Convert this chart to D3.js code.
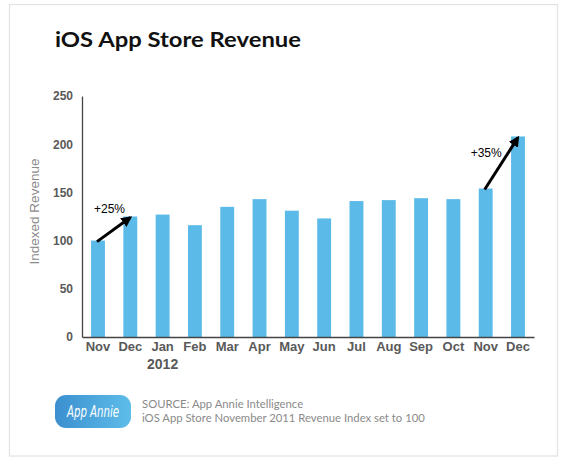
<!DOCTYPE html>
<head>
  <meta charset="utf-8">
  <style>
    body { margin: 0; background: #fff; overflow: hidden; }
    svg { display: block; }
    .axis text { font-family: 'Liberation Sans', Arial, sans-serif; font-weight: bold; fill: #595959; }
  </style>
</head>
<body>
  <script src="https://cdn.jsdelivr.net/npm/d3@7"></script>
  <script>
    // chart values
    const months = ['Nov', 'Dec', 'Jan', 'Feb', 'Mar', 'Apr', 'May', 'Jun', 'Jul', 'Aug', 'Sep', 'Oct', 'Nov2', 'Dec2'];
    const monthLabels = ['Nov', 'Dec', 'Jan', 'Feb', 'Mar', 'Apr', 'May', 'Jun', 'Jul', 'Aug', 'Sep', 'Oct', 'Nov', 'Dec'];
    const revenue = [100, 125, 127, 116, 135, 143, 131, 123, 141, 142, 144, 143, 154, 208];
    const yTicks = [0, 50, 100, 150, 200, 250];
    // growth callouts: from bar index to bar index
    const callouts = [
      {from: 0, to: 1, label: '+25%'},
      {from: 12, to: 13, label: '+35%'}
    ];
    // where each callout label sits, relative to the start of its arrow
    const calloutLabelShift = [[-4, -28], [-15, -32]];

    const width = 563;
    const height = 465;
    const margin = {top: 96, right: 29, bottom: 128, left: 82};

    let svg = d3.select("body").append("svg")
      .attr("width", width)
      .attr("height", height);

    // frame
    svg.append("rect")
      .attr("x", 9.5).attr("y", 4.5)
      .attr("width", 548).attr("height", 451.5)
      .attr("fill", "none")
      .attr("stroke", "#e2e2e2")
      .attr("stroke-width", 1.2);

    svg.append("text")
      .attr("x", 55).attr("y", 47)
      .attr("font-family", "Lato, 'Open Sans', sans-serif")
      .attr("font-weight", "bold")
      .attr("font-size", 21)
      .attr("textLength", 246)
      .attr("lengthAdjust", "spacingAndGlyphs")
      .attr("fill", "#111")
      .text("iOS App Store Revenue");

    const xScale = d3.scaleBand()
      .domain(months)
      .range([margin.left, width - margin.right])
      .paddingInner(0.57)
      .paddingOuter(0.28);
    const yScale = d3.scaleLinear()
      .domain([0, 250])
      .range([height - margin.bottom, margin.top]);

    // bars
    svg.append("g").selectAll("rect")
      .data(revenue).enter().append("rect")
      .attr("x", (d, i) => xScale(months[i]))
      .attr("y", d => yScale(d))
      .attr("width", xScale.bandwidth())
      .attr("height", d => yScale(0) - yScale(d))
      .attr("fill", "#5bbae7");

    // axes
    const yaxis = d3.axisLeft(yScale).tickValues(yTicks).tickSize(0).tickPadding(9);
    const xaxis = d3.axisBottom(xScale).tickSize(0).tickPadding(5)
      .tickFormat((d, i) => monthLabels[i]);

    let gy = svg.append("g").attr("class", "axis")
      .attr("transform", "translate(" + margin.left + ",0)")
      .call(yaxis);
    gy.select(".domain").attr("stroke", "#444").attr("stroke-width", 1.3);
    gy.selectAll("text").attr("font-size", 12);

    let gx = svg.append("g").attr("class", "axis")
      .attr("transform", "translate(0," + yScale(0) + ")")
      .call(xaxis);
    gx.select(".domain").attr("stroke", "#444").attr("stroke-width", 1.6);
    gx.selectAll("text").attr("font-size", 13);

    svg.append("text")
      .attr("x", xScale('Jan') + xScale.bandwidth() / 2)
      .attr("y", yScale(0) + 32)
      .attr("text-anchor", "middle")
      .attr("font-family", "'Liberation Sans', Arial, sans-serif")
      .attr("font-weight", "bold")
      .attr("font-size", 14)
      .attr("fill", "#595959")
      .text("2012");

    svg.append("text")
      .attr("transform", "translate(39,211.5) rotate(-90)")
      .attr("text-anchor", "middle")
      .attr("font-family", "'Liberation Sans', Arial, sans-serif")
      .attr("font-size", 13.5)
      .attr("fill", "#8a8a8a")
      .text("Indexed Revenue");

    // growth arrows
    svg.append("defs").append("marker")
      .attr("id", "head")
      .attr("viewBox", "0 0 10 10")
      .attr("refX", 8).attr("refY", 5)
      .attr("markerWidth", 3.6).attr("markerHeight", 3.6)
      .attr("orient", "auto")
      .append("path")
      .attr("d", "M0,0 L10,5 L0,10 Z")
      .attr("fill", "#000");

    const cx = i => xScale(months[i]) + xScale.bandwidth() / 2;
    svg.append("g").selectAll("line").data(callouts).enter().append("line")
      .attr("x1", d => cx(d.from) - 1)
      .attr("y1", d => yScale(revenue[d.from]) + 1)
      .attr("x2", d => cx(d.to))
      .attr("y2", d => yScale(revenue[d.to]) + 1)
      .attr("stroke", "#000")
      .attr("stroke-width", 3)
      .attr("marker-end", "url(#head)");
    svg.append("g").selectAll("text").data(callouts).enter().append("text")
      .attr("x", (d, i) => cx(d.from) + calloutLabelShift[i][0])
      .attr("y", (d, i) => yScale(revenue[d.from]) + calloutLabelShift[i][1])
      .attr("font-family", "'Liberation Sans', Arial, sans-serif")
      .attr("font-size", 12)
      .attr("fill", "#000")
      .text(d => d.label);

    // footer logo + source
    const grad = svg.select("defs").append("linearGradient").attr("id", "logo");
    grad.append("stop").attr("offset", "0%").attr("stop-color", "#3b8fcf");
    grad.append("stop").attr("offset", "100%").attr("stop-color", "#5ebde9");
    svg.append("rect")
      .attr("x", 55).attr("y", 395)
      .attr("width", 76).attr("height", 33)
      .attr("rx", 11)
      .attr("fill", "url(#logo)");
    svg.append("text")
      .attr("x", 67).attr("y", 417)
      .attr("font-family", "'DejaVu Sans Condensed', 'Liberation Sans Narrow', sans-serif")
      .attr("font-style", "italic")
      .attr("font-size", 16)
      .attr("textLength", 52)
      .attr("lengthAdjust", "spacingAndGlyphs")
      .attr("fill", "#fff")
      .text("App Annie");

    const sourceLines = ["SOURCE: App Annie Intelligence", "iOS App Store November 2011 Revenue Index set to 100"];
    svg.append("g").selectAll("text").data(sourceLines).enter().append("text")
      .attr("x", 142)
      .attr("y", (d, i) => 408 + i * 13.5)
      .attr("font-family", "Lato, sans-serif")
      .attr("font-size", 11.3)
      .attr("fill", "#8a8a8a")
      .text(d => d);
  </script>
</body>
